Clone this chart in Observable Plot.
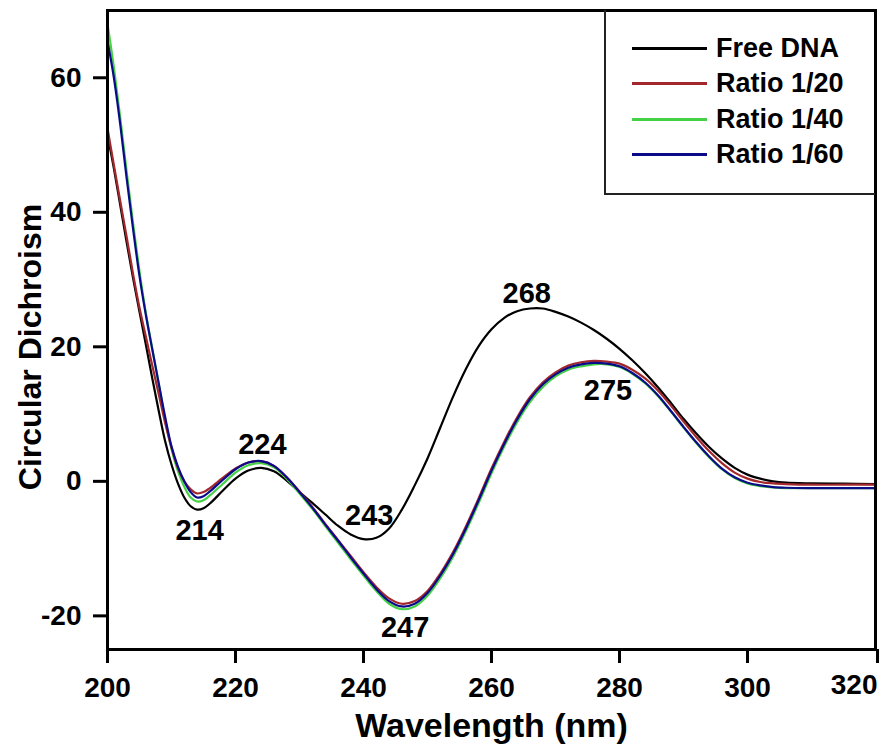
<!DOCTYPE html>
<html>
<head>
<meta charset="utf-8">
<script src="https://cdn.jsdelivr.net/npm/d3@7"></script>
<script src="https://cdn.jsdelivr.net/npm/@observablehq/plot@0.6"></script>
<style>
  body { margin: 0; background: #fff; }
  #wrap { position: relative; width: 883px; height: 746px; font-family: "Liberation Sans", Arial, sans-serif; }
  #legend { position: absolute; left: 604px; top: 10px; width: 271px; height: 185px;
            border-left: 2px solid #222; border-bottom: 2px solid #222; box-sizing: border-box; }
  .row { position: absolute; left: 26px; height: 36px; display: flex; align-items: center;
         font-weight: bold; font-size: 27px; color: #000; white-space: nowrap; }
  .row .sw { display: inline-block; width: 75px; height: 3px; margin-right: 9px; }
</style>
</head>
<body>
<div id="wrap"><div id="legend"></div></div>
<script>
// ---- data ----
const wavelengths = [200,201,202,203,204,205,206,207,208,209,210,211,212,213,214,215,216,218,220,222,224,226,228,230,232,234,236,238,240,242,244,246,248,250,252,254,256,258,260,262,264,266,268,270,272,274,276,278,280,282,284,286,288,290,292,294,296,298,300,302,304,306,310,315,320];

const freeDNA = [51.5,46.5,41,35.5,30.2,25.2,20.3,15.3,10.5,6.0,2.5,-0.3,-2.4,-3.7,-4.2,-4.0,-3.3,-1.4,0.4,1.6,2.0,1.5,0.1,-1.6,-3.2,-4.9,-6.6,-7.9,-8.6,-8.4,-7.0,-4.2,-0.6,3.4,8.0,12.6,16.7,20.1,22.6,24.3,25.3,25.7,25.7,25.2,24.5,23.6,22.5,21.2,19.7,18.0,16.1,14.0,11.7,9.3,7.1,5.1,3.4,2.0,1.0,0.4,0.0,-0.2,-0.3,-0.35,-0.4];

const ratio20 = [52.5,47,41.6,36.3,30.8,25.8,21.5,17.2,13.0,8.7,5.0,2.0,0.0,-1.2,-1.8,-1.6,-1.0,0.5,1.9,2.8,3.0,2.3,0.6,-1.5,-3.8,-6.3,-8.7,-11.1,-13.5,-15.7,-17.4,-18.2,-17.8,-16.3,-13.7,-10.5,-6.7,-2.5,1.9,5.9,9.5,12.5,14.7,16.2,17.2,17.7,17.9,17.8,17.5,16.6,15.3,13.5,11.3,8.9,6.6,4.5,2.7,1.3,0.4,-0.1,-0.3,-0.4,-0.5,-0.5,-0.5];

const ratio40 = [68,61.5,54,46,38.3,31.2,25,19.7,14.5,9.3,4.8,1.5,-0.8,-2.4,-3.0,-2.8,-2.1,-0.4,1.3,2.4,2.7,2.1,0.4,-1.8,-4.1,-6.6,-9.1,-11.6,-14.0,-16.3,-18.2,-19.0,-18.6,-17.0,-14.4,-11.2,-7.4,-3.2,1.2,5.2,8.8,11.8,14.0,15.6,16.6,17.1,17.4,17.4,17.0,16.0,14.6,12.7,10.4,8.0,5.7,3.6,1.8,0.5,-0.3,-0.7,-0.9,-1.0,-1.0,-1.0,-1.0];

const ratio60 = [65.5,60,53,45,37.5,30.5,24.7,19.6,14.6,9.6,5.2,2.2,0.0,-1.6,-2.4,-2.2,-1.5,0.2,1.8,2.8,3.0,2.3,0.6,-1.6,-3.9,-6.4,-8.8,-11.3,-13.7,-16.0,-17.8,-18.6,-18.2,-16.6,-14.0,-10.8,-7.0,-2.8,1.6,5.6,9.2,12.2,14.4,15.9,16.9,17.4,17.6,17.5,17.1,16.1,14.7,12.8,10.5,8.1,5.8,3.7,1.9,0.6,-0.2,-0.6,-0.85,-0.95,-1.0,-1.0,-1.0];

const seriesNames = ["Free DNA", "Ratio 1/20", "Ratio 1/40", "Ratio 1/60"];
const seriesColors = ["#000000", "#a3282d", "#45d145", "#0b0b8a"];
const drawOrder = ["Free DNA", "Ratio 1/40", "Ratio 1/20", "Ratio 1/60"];

const peakLabels = ["214", "224", "243", "247", "268", "275"];
const peakLabelX = [214.4, 224.2, 240.9, 246.5, 265.5, 278.2];
const peakLabelY = [-7.3, 5.5, -5.1, -21.8, 27.9, 13.4];

const xTicks = [200, 220, 240, 260, 280, 300];
const xLastTick = [320];
const yTicks = [-20, 0, 20, 40, 60];

// ---- build tables ----
const seriesValues = {"Free DNA": freeDNA, "Ratio 1/20": ratio20, "Ratio 1/40": ratio40, "Ratio 1/60": ratio60};
const rows = [];
for (const name of drawOrder) {
  seriesValues[name].forEach((v, i) => rows.push({series: name, wl: wavelengths[i], cd: v}));
}
const annots = peakLabels.map((t, i) => ({t, x: peakLabelX[i], y: peakLabelY[i]}));

const chart = Plot.plot({
  width: 883,
  height: 746,
  marginTop: 10,
  marginBottom: 97,
  marginLeft: 107,
  marginRight: 8,
  style: {fontFamily: "Liberation Sans, Arial, sans-serif", fontWeight: "bold", color: "#000", background: "#fff"},
  x: {domain: [200, 320]},
  y: {domain: [-25, 70]},
  color: {domain: seriesNames, range: seriesColors},
  marks: [
    Plot.line(rows, {x: "wl", y: "cd", z: "series", stroke: "series", strokeWidth: 2.2, curve: "catmull-rom"}),
    Plot.text(annots, {x: "x", y: "y", text: "t", fontSize: 29, fill: "#000", textAnchor: "middle", lineAnchor: "middle"}),
    Plot.frame({stroke: "#000", strokeWidth: 3}),
    Plot.axisX({ticks: xTicks, tickSize: 14, tickPadding: 14, strokeWidth: 3, fontSize: 28, label: null, tickFormat: d => `${d}`}),
    Plot.axisX({ticks: xLastTick, tickSize: 14, tickPadding: 11, strokeWidth: 3, fontSize: 28, label: null, textAnchor: "end", dx: 2, tickFormat: d => `${d}`}),
    Plot.axisY({ticks: yTicks, tickSize: 14, tickPadding: 12, strokeWidth: 3, fontSize: 28, label: null, tickFormat: d => `${d}`}),
    Plot.text(["Wavelength (nm)"], {frameAnchor: "bottom", textAnchor: "middle", lineAnchor: "middle", dy: 77, fontSize: 34, fill: "#000"}),
    Plot.text(["Circular Dichroism"], {frameAnchor: "left", textAnchor: "middle", lineAnchor: "middle", dx: -77, dy: 17, rotate: -90, fontSize: 32, fill: "#000"})
  ]
});

const wrap = document.getElementById("wrap");
wrap.insertBefore(chart, wrap.firstChild);

// legend overlay
const legend = document.getElementById("legend");
const rowCenters = [38, 73.5, 109, 144.5];
seriesNames.forEach((name, i) => {
  const r = document.createElement("div");
  r.className = "row";
  r.style.top = (rowCenters[i] - 18) + "px";
  const sw = document.createElement("span");
  sw.className = "sw";
  sw.style.background = seriesColors[i];
  r.appendChild(sw);
  r.appendChild(document.createTextNode(name));
  legend.appendChild(r);
});
</script>
</body>
</html>
